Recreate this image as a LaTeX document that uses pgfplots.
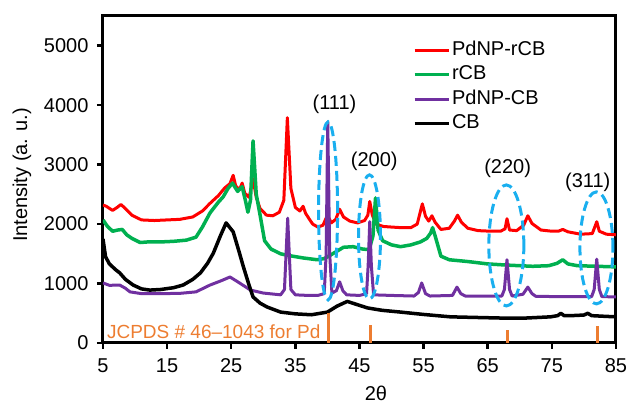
\documentclass[border=0pt]{standalone}
\usepackage{fontspec}
\setmainfont{Liberation Sans}
\usepackage{pgfplots}
\pgfplotsset{compat=1.18}
\definecolor{cRed}{HTML}{FF0000}
\definecolor{cGreen}{HTML}{00B050}
\definecolor{cPurple}{HTML}{7030A0}
\definecolor{cOrange}{HTML}{ED7D31}
\definecolor{cBlue}{HTML}{1AAFEF}
\newcommand{\bigfont}{\fontsize{20}{24}\selectfont}
\begin{document}
\begin{tikzpicture}
\path[use as bounding box] (-103pt,-60pt) rectangle (526pt,343pt);
\begin{axis}[
  scale only axis,
  width=513pt,height=327pt,
  xmin=5,xmax=85,ymin=0,ymax=5500,
  xtick={5,15,...,85},
  ytick={0,1000,...,5000},
  xtick pos=bottom,ytick pos=left,
  tick align=outside,
  major tick length=6pt,
  tick style={black,line width=2.5pt},
  axis line style={black,line width=3pt},
  /pgf/number format/assume math mode=true,
  /pgf/number format/1000 sep={},
  tick label style={font=\bigfont},
  xticklabel style={yshift=-6pt},
  yticklabel style={xshift=-5pt},
  xlabel={2θ},
  ylabel={Intensity (a. u.)},
  label style={font=\bigfont},
  xlabel style={at={(axis description cs:0.532,-0.153)},anchor=center},
  ylabel style={at={(axis description cs:-0.158,0.514)},anchor=center},
  legend cell align=left,
  legend image code/.code={\draw[#1,line width=3pt] (0pt,0pt) -- (34pt,0pt);},
  legend style={draw=none,fill=none,at={(0.604,0.9235)},anchor=north west,
    inner sep=0pt,row sep=6.5pt,column sep=2pt,font=\bigfont,
    nodes={inner sep=0pt,text height=14pt,text depth=4pt}},
  every axis plot/.append style={line join=round},
]
\addplot[cRed,line width=3pt] coordinates {
(5,2320)(5.5,2300)(6.5,2230)(7.2,2280)(7.8,2330)(8.5,2260)(9.5,2150)(11,2070)(13,2060)(15,2070)(17,2080)(19,2120)(20.5,2220)(21.7,2350)(23,2480)(24,2610)(24.8,2680)(25.3,2820)(25.7,2640)(26.3,2580)(26.7,2690)(27.1,2520)(27.8,2450)(28.4,2760)(28.9,2450)(29.5,2260)(30.5,2150)(31.5,2140)(32.5,2200)(33.2,2400)(33.75,3790)(34.3,2600)(35,2280)(35.7,2220)(36.2,2300)(36.6,2180)(37.2,2080)(37.7,2000)(38.5,1950)(39.3,1980)(40,2150)(40.6,2020)(41.3,2080)(41.9,2250)(42.5,2120)(43.5,2050)(44.7,2020)(45.8,2060)(46.3,2150)(46.6,2380)(47,2150)(47.6,2000)(48.7,1960)(50,1950)(51.5,1940)(53,1940)(54,2000)(54.8,2340)(55.3,2130)(55.8,2050)(56.3,2140)(56.8,2030)(57.7,1910)(59,1930)(59.8,2050)(60.3,2150)(60.9,2030)(61.9,1930)(63.5,1890)(65.5,1880)(67,1880)(67.7,1920)(68,2090)(68.4,1900)(69.5,1890)(70.6,1980)(71.25,2140)(71.9,2010)(73.3,1900)(75,1880)(76,1880)(76.7,1910)(77.5,1870)(79.5,1830)(81.3,1840)(81.8,1980)(82,2040)(82.4,1880)(83.5,1830)(85,1820)
};
\addplot[cGreen,line width=3.5pt] coordinates {
(5,2070)(5.7,1960)(6.5,1880)(7.3,1900)(8,1910)(8.7,1820)(9.5,1760)(10.8,1690)(12,1700)(14,1700)(16,1710)(18,1730)(19.5,1780)(20.5,1950)(21.7,2190)(23,2370)(23.75,2460)(24.5,2600)(25.2,2690)(25.7,2600)(26,2550)(26.7,2630)(27.2,2400)(27.6,2200)(28,2400)(28.4,3400)(28.9,2500)(29.5,2150)(30.2,1720)(31.2,1580)(32.7,1500)(34,1470)(36.25,1430)(38.4,1400)(39.5,1420)(40.5,1480)(42.5,1610)(44,1620)(45.5,1580)(46.5,1570)(47.1,1800)(47.5,2440)(47.9,1900)(48.6,1720)(50,1650)(51.4,1620)(53,1650)(54.5,1700)(55.5,1760)(56.1,1850)(56.4,1940)(56.8,1800)(57.7,1460)(59,1400)(61.9,1370)(65,1330)(68,1310)(72,1290)(74.5,1300)(75.8,1340)(76.7,1400)(77.5,1330)(79,1300)(82,1290)(85,1280)
};
\addplot[cPurple,line width=3pt] coordinates {
(5,1010)(6,970)(7.6,975)(8.5,920)(9.2,860)(11,830)(14,830)(17,835)(19.5,860)(21.7,975)(23.5,1050)(24.8,1110)(26,1030)(28,890)(30,840)(32.7,810)(33.3,900)(33.8,2100)(34.3,900)(35,810)(37,800)(38.5,800)(39.5,830)(39.8,1500)(40.05,3720)(40.35,1500)(40.7,840)(41.4,880)(41.9,1030)(42.4,880)(43,810)(45,800)(46.1,830)(46.35,1300)(46.6,2040)(46.85,1300)(47.2,810)(50,800)(53.5,790)(54.2,850)(54.7,1010)(55.3,830)(56,790)(59.5,800)(60.2,940)(60.8,830)(61.5,790)(67.2,790)(67.6,900)(68,1400)(68.4,900)(68.8,790)(70.5,820)(71.25,940)(71.9,830)(72.5,785)(76,780)(81.2,780)(81.6,900)(82,1410)(82.4,900)(82.8,780)(85,775)
};
\addplot[black,line width=3.5pt] coordinates {
(5,1750)(5.4,1450)(6,1330)(7,1230)(7.6,1180)(8.5,1070)(9.7,975)(11,910)(12.3,890)(14,900)(16,930)(17.5,975)(19,1070)(20.2,1180)(21.3,1340)(22.2,1510)(23.3,1800)(24.2,2020)(25.3,1870)(26.1,1580)(26.9,1280)(27.7,1000)(28.4,775)(29.5,670)(30.6,605)(32.7,520)(35,490)(37.5,475)(40,520)(41.5,620)(43.1,700)(44.5,650)(46.25,590)(48.5,550)(51.4,520)(55,480)(59.2,440)(63,430)(67,420)(71,420)(74.8,440)(75.9,460)(76.4,500)(76.9,460)(78,460)(80,470)(80.6,500)(81.2,460)(83,450)(85,440)
};
\legend{PdNP-rCB,rCB,PdNP-CB,CB}
\addplot[cOrange,line width=3pt,ycomb,forget plot] coordinates {(40.1,500)(46.7,300)(68.1,220)(82.1,280)};
\begin{scope}[cBlue,line width=3pt,dash pattern=on 10pt off 5pt]
\draw (axis cs:40.1,2222) ellipse [x radius=9.5pt,y radius=89pt];
\draw (axis cs:46.56,1785) ellipse [x radius=11pt,y radius=62pt];
\draw (axis cs:67.9,1641) ellipse [x radius=17.5pt,y radius=60.5pt];
\draw (axis cs:81.95,1600) ellipse [x radius=16.5pt,y radius=56pt];
\end{scope}
\node[font=\bigfont] at (axis cs:41.1,4020) {(111)};
\node[font=\bigfont] at (axis cs:47.3,3050) {(200)};
\node[font=\bigfont] at (axis cs:68.1,2945) {(220)};
\node[font=\bigfont] at (axis cs:80.6,2710) {(311)};
\node[font=\fontsize{19}{22}\selectfont,text=cOrange,anchor=base west,inner sep=0pt] at (axis cs:5.6,84) {JCPDS \# 46–1043 for Pd};
\end{axis}
\end{tikzpicture}
\end{document}
